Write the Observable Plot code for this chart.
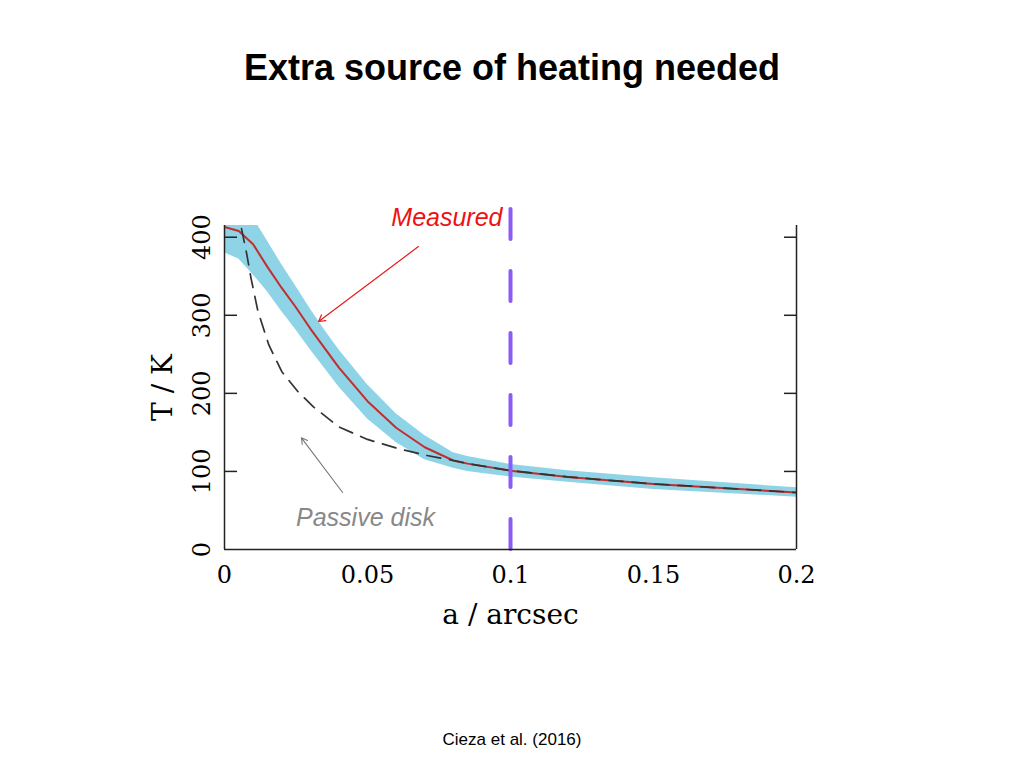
<!DOCTYPE html>
<html><head><meta charset="utf-8">
<script src="https://cdn.jsdelivr.net/npm/d3@7"></script>
<script src="https://cdn.jsdelivr.net/npm/@observablehq/plot@0.6"></script>
<style>
body{margin:0;background:#fff;width:1024px;height:768px;position:relative;overflow:hidden;}
#title{position:absolute;top:50px;left:0;width:1024px;text-align:center;font:bold 36px/36px "Liberation Sans",Arial,sans-serif;color:#000;}
#chart{position:absolute;top:150px;left:0;}
#caption{position:absolute;top:731px;left:0;width:1024px;text-align:center;font:17px/17px "Liberation Sans",Arial,sans-serif;color:#000;}
</style></head><body>
<div id="title">Extra source of heating needed</div>
<div id="chart"></div>
<div id="caption">Cieza et al. (2016)</div>
<script>
// Measured temperature profile (red) and its uncertainty band (blue)
const radius    = [0, 0.005, 0.01, 0.015, 0.02, 0.025, 0.03, 0.035, 0.04, 0.05, 0.06, 0.07, 0.08, 0.085, 0.1, 0.12, 0.15, 0.2];
const measuredT = [413, 408, 391, 362, 335, 310, 283, 258, 233, 190, 156, 131, 114, 110, 101, 93, 84, 73];
const bandHigh  = [440, 440, 425, 395, 365, 337, 308, 281, 256, 211, 174, 146, 124, 119, 109, 101, 92, 79];
const bandLow   = [380, 372, 352, 330, 305, 281, 256, 232, 208, 167, 137, 115, 104, 100, 93, 86, 77, 67];

// Passive disk model (dashed)
const passiveRadius = [0.0045, 0.006, 0.0077, 0.0093, 0.0117, 0.0155, 0.02, 0.0255, 0.031, 0.04, 0.05, 0.06, 0.07, 0.08, 0.085, 0.1, 0.12, 0.15, 0.2];
const passiveT      = [440, 410, 380, 347, 305, 262, 228, 203, 183, 157, 141, 130, 121, 114, 110, 101, 93, 84, 73];

// Axes
const xDomain = [0, 0.2];
const yDomain = [0, 415];
const xTicks = [0, 0.05, 0.1, 0.15, 0.2];
const xTickLabels = ["0", "0.05", "0.1", "0.15", "0.2"];
const yTicks = [0, 100, 200, 300, 400];
const yInnerTicks = [100, 200, 300, 400];

// Vertical reference line at 0.1 arcsec
const refRadius = [0.1];
const refSpan = [0, 440];

// Annotations
const measuredLabel = [{a: 0.1, T: 425, text: "Measured"}];
const passiveLabel = [{a: 0.0493, T: 40, text: "Passive disk"}];
const measuredArrow = [{a1: 0.0678, T1: 388, a2: 0.0329, T2: 292}];
const passiveArrow = [{a1: 0.0413, T1: 73, a2: 0.0269, T2: 143}];

const measured = radius.map((a, i) => ({a, T: measuredT[i], lo: bandLow[i], hi: bandHigh[i]}));
const passive = passiveRadius.map((a, i) => ({a, T: passiveT[i]}));

const serif = "DejaVu Serif";
const sans = "Liberation Sans";

const chart = Plot.plot({
  width: 1024,
  height: 520,
  marginLeft: 224,
  marginRight: 228,
  marginTop: 75,
  marginBottom: 121,
  x: {domain: xDomain},
  y: {domain: yDomain},
  marks: [
    Plot.areaY(measured, {x: "a", y1: "lo", y2: "hi", fill: "#8fd3e6", clip: true}),
    Plot.line(measured, {x: "a", y: "T", stroke: "#c42d2d", strokeWidth: 2, clip: true}),
    Plot.line(passive, {x: "a", y: "T", stroke: "#333", strokeWidth: 1.7, strokeDasharray: "14,9", clip: true}),
    Plot.ruleX(refRadius, {y1: refSpan[0], y2: refSpan[1], stroke: "#8a5cf5", strokeWidth: 4, strokeDasharray: "30,32", strokeLinecap: "round"}),
    Plot.ruleX(xDomain, {stroke: "#222", strokeWidth: 1.5}),
    Plot.ruleY([yDomain[0]], {stroke: "#222", strokeWidth: 1.5}),
    Plot.axisY(yInnerTicks, {anchor: "left", tickSize: -13, tickFormat: () => "", label: null, stroke: "#222", strokeWidth: 1.5}),
    Plot.axisY(yInnerTicks, {anchor: "right", tickSize: -13, tickFormat: () => "", label: null, stroke: "#222", strokeWidth: 1.5}),
    Plot.axisX(xTicks, {anchor: "bottom", tickSize: 0, tickPadding: 16, tickFormat: (d, i) => xTickLabels[i], label: null, fontSize: 24, fontFamily: serif, fill: "#000"}),
    Plot.text(yTicks, {y: d => d, text: d => String(d), frameAnchor: "left", textAnchor: "middle", rotate: -90, dx: -22, fontSize: 24, fontFamily: serif, fill: "#000"}),
    Plot.text(["T / K"], {frameAnchor: "left", textAnchor: "middle", rotate: -90, dx: -61, fontSize: 28, fontFamily: serif, fill: "#000"}),
    Plot.text(["a / arcsec"], {frameAnchor: "bottom", textAnchor: "middle", dy: 74, fontSize: 28, fontFamily: serif, fill: "#000"}),
    Plot.text(measuredLabel, {x: "a", y: "T", text: "text", textAnchor: "end", dx: -8, fill: "#ee1111", fontStyle: "italic", fontSize: 25, fontFamily: sans}),
    Plot.text(passiveLabel, {x: "a", y: "T", text: "text", fill: "#888", fontStyle: "italic", fontSize: 25, fontFamily: sans}),
    Plot.arrow(measuredArrow, {x1: "a1", y1: "T1", x2: "a2", y2: "T2", stroke: "#e61a1a", strokeWidth: 1.2, headLength: 9}),
    Plot.arrow(passiveArrow, {x1: "a1", y1: "T1", x2: "a2", y2: "T2", stroke: "#777", strokeWidth: 1.1, headLength: 9})
  ]
});
document.getElementById("chart").appendChild(chart);
</script>
</body></html>
